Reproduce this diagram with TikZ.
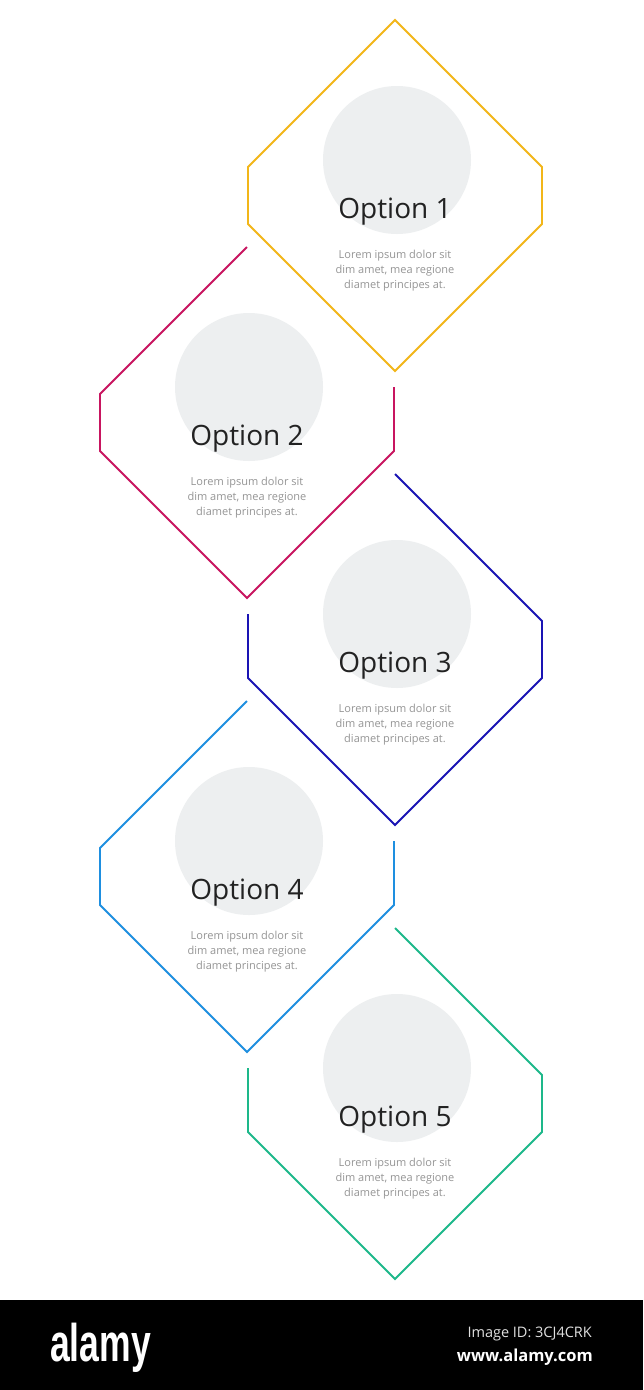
\documentclass[tikz,border=0pt]{standalone}
\usepackage{fontspec}
\setmainfont{Open Sans}
\newfontfamily\logofont{Liberation Sans}
\definecolor{optA}{HTML}{F2B619}
\definecolor{optB}{HTML}{C81560}
\definecolor{optC}{HTML}{1A14B4}
\definecolor{optD}{HTML}{1E8FE0}
\definecolor{optE}{HTML}{1DB88A}
\definecolor{circfill}{HTML}{EDEFF0}
\definecolor{titlegrey}{HTML}{222222}
\definecolor{bodygrey}{HTML}{959595}
\begin{document}
\begin{tikzpicture}[x=1pt,y=-1pt,
  hexline/.style={line width=1.9pt, line join=miter},
  circ/.style={fill=circfill},
  titletext/.style={anchor=base, inner sep=0pt, text=titlegrey, font=\fontsize{28}{30}\selectfont},
  bodytext/.style={anchor=north, inner sep=0pt, align=center, text=bodygrey, font=\fontsize{11}{15}\selectfont},
]
\useasboundingbox (0,0) rectangle (643,1390);
\fill[white] (0,0) rectangle (643,1390);

% circles
\fill[circ] (397,160) circle (74pt);
\fill[circ] (249,387) circle (74pt);
\fill[circ] (397,614) circle (74pt);
\fill[circ] (249,841) circle (74pt);
\fill[circ] (397,1068) circle (74pt);

% hexagon outlines
\draw[hexline, optA] (395,20) -- (542,167) -- (542,224) -- (395,371) -- (248,224) -- (248,167) -- cycle;
\draw[hexline, optB] (247,247) -- (100,394) -- (100,451) -- (247,598) -- (394,451) -- (394,387);
\draw[hexline, optC] (395,474) -- (542,621) -- (542,678) -- (395,825) -- (248,678) -- (248,614);
\draw[hexline, optD] (247,701) -- (100,848) -- (100,905) -- (247,1052) -- (394,905) -- (394,841);
\draw[hexline, optE] (395,928) -- (542,1075) -- (542,1132) -- (395,1279) -- (248,1132) -- (248,1068);

% titles
\node[titletext] (t1) at (395,218) {Option 1};
\node[titletext] (t2) at (247,445) {Option 2};
\node[titletext] (t3) at (395,672) {Option 3};
\node[titletext] (t4) at (247,899) {Option 4};
\node[titletext] (t5) at (395,1126) {Option 5};

% body texts
\node[bodytext] (b1) at (395,250) {Lorem ipsum dolor sit\\dim amet, mea regione\\diamet principes at.};
\node[bodytext] (b2) at (247,477) {Lorem ipsum dolor sit\\dim amet, mea regione\\diamet principes at.};
\node[bodytext] (b3) at (395,704) {Lorem ipsum dolor sit\\dim amet, mea regione\\diamet principes at.};
\node[bodytext] (b4) at (247,931) {Lorem ipsum dolor sit\\dim amet, mea regione\\diamet principes at.};
\node[bodytext] (b5) at (395,1158) {Lorem ipsum dolor sit\\dim amet, mea regione\\diamet principes at.};

% bottom band
\fill[black] (0,1300) rectangle (643,1390);
\node[anchor=base west, inner sep=0pt, text=white] (logo) at (50,1361)
  {\scalebox{0.67}[1]{\logofont\bfseries\fontsize{53}{53}\selectfont alamy}};
\node[anchor=base east, inner sep=0pt, text=white!88!black, font=\fontsize{14.5}{16}\selectfont] (imgid) at (592,1337) {Image ID: 3CJ4CRK};
\node[anchor=base east, inner sep=0pt, text=white, font=\bfseries\fontsize{16.5}{18}\selectfont] (url) at (593,1361) {www.alamy.com};
\end{tikzpicture}
\end{document}
